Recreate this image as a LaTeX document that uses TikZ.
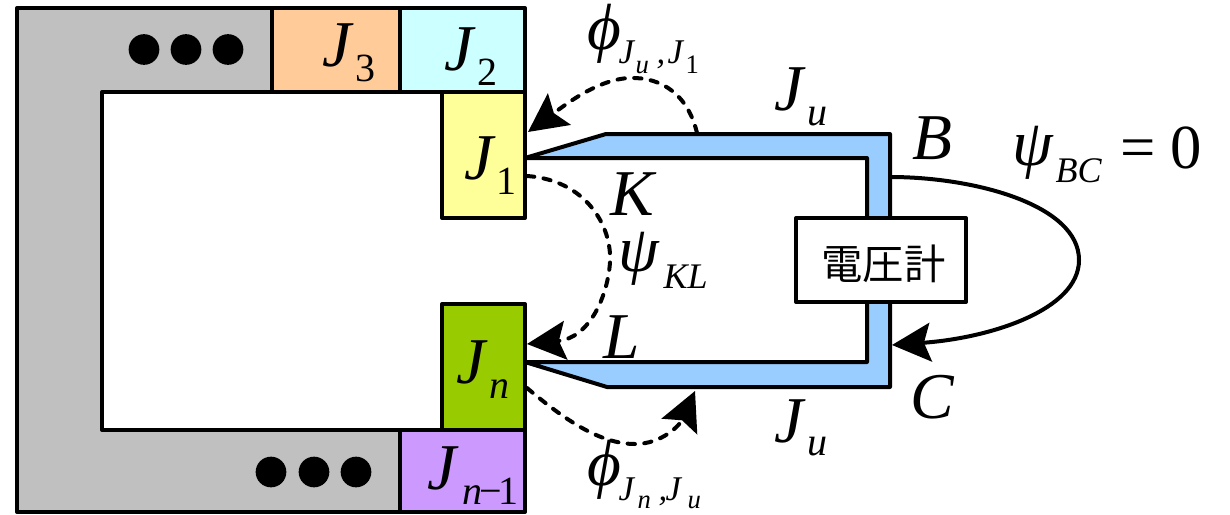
\documentclass[tikz,border=0pt]{standalone}
\usepackage{fontspec}
\setmainfont{Liberation Serif}
\newfontfamily\cjk{Noto Sans CJK JP}
\usetikzlibrary{arrows.meta}
\newcommand\fa{\fontsize{49}{49}\selectfont\itshape}
\newcommand\fb{\fontsize{30}{30}\selectfont}
\newcommand\fc{\fontsize{26}{26}\selectfont\itshape}
\newcommand\fd{\fontsize{20}{20}\selectfont}
% place text at an offset (in reference pixels) from the label's origin
\newcommand\pl[3]{\rlap{\kern\dimexpr#1pt*3/4\relax\raisebox{\dimexpr-#2pt*3/4\relax}{#3}}}
\tikzset{
  px/.style={x=0.75pt,y=-0.75pt},
  ln/.style={draw=black,line width=3pt,line join=round},
  boxn/.style={ln,anchor=north west,inner sep=0pt,outer sep=0pt},
  lab/.style={anchor=base west,inner sep=0pt,outer sep=0pt},
  dot/.style={circle,fill=black,inner sep=0pt,minimum size=23pt},
  tipa/.style={-{Stealth[length=29pt,width=29pt,inset=5pt]}},
  flux/.style={line width=3pt,line cap=round,dash pattern=on 5.5pt off 7pt,tipa},
  loopl/.style={line width=3pt,tipa},
}
\begin{document}
\begin{tikzpicture}[px]
\useasboundingbox (0,0) rectangle (1230,514);
\fill[white] (0,0) rectangle (1230,514);
% gray frame
\path[ln,fill={rgb,255:red,192;green,192;blue,192}] (17,8) -- (272,8) -- (272,92) -- (102,92) -- (102,430) -- (400,430) -- (400,512) -- (17,512) -- cycle;
% junction boxes
\node[boxn,fill={rgb,255:red,255;green,204;blue,153},minimum width=96pt,minimum height=63pt] (b3) at (272,8) {};
\node[boxn,fill={rgb,255:red,204;green,255;blue,255},minimum width=93.75pt,minimum height=63pt] (b2) at (400,8) {};
\node[boxn,fill={rgb,255:red,255;green,255;blue,153},minimum width=62.25pt,minimum height=94.5pt] (b1) at (442,92) {};
\node[boxn,fill={rgb,255:red,153;green,204;blue,0},minimum width=62.25pt,minimum height=94.5pt] (bn) at (442,304) {};
\node[boxn,fill={rgb,255:red,204;green,153;blue,255},minimum width=93.75pt,minimum height=61.5pt] (bm) at (400,430) {};
% blue junction
\path[ln,fill={rgb,255:red,153;green,204;blue,255}] (525,158) -- (606,134) -- (890,134) -- (890,387) -- (607,387) -- (525,362) -- (867,362) -- (867,158) -- cycle;
% meter
\node[boxn,fill=white,minimum width=127.5pt,minimum height=63pt] (meter) at (796,218) {};
\node[inner sep=0pt] (metert) at (883.5,264) {\fontsize{31}{31}\cjk 電圧計};
% dots
\foreach \n/\x in {a/144,b/186,c/228} \node[dot] (t\n) at (\x,49.5) {};
\foreach \n/\x in {a/271,b/314,c/356} \node[dot] (u\n) at (\x,472) {};
% anchors of connectors
\coordinate (fa) at (697,133);
\coordinate (fb) at (528,132);
\coordinate (ka) at (527,176);
\coordinate (kb) at (527,344);
\coordinate (na) at (527,388);
\coordinate (nb) at (695,391);
\coordinate (pb) at (890,177);
\coordinate (pc) at (892,345);
% connectors
\draw[flux] (fa) .. controls (688,95) and (662,77) .. (630,78) .. controls (598,79) and (565,105) .. (fb);
\draw[flux] (ka) .. controls (585,180) and (612,225) .. (610,262) .. controls (608,295) and (590,338) .. (kb);
\draw[flux] (na) .. controls (565,420) and (600,444) .. (635,444) .. controls (662,444) and (680,425) .. (nb);
\draw[loopl] (pb) .. controls (975,177) and (1079,205) .. (1079,260) .. controls (1079,310) and (990,338) .. (pc);
% labels
\node[lab] (l3) at (322,66) {\pl{0}{0}{\fa J}\pl{33}{15}{\fb 3}};
\node[lab] (l2) at (444,70) {\pl{0}{0}{\fa J}\pl{33}{15}{\fb 2}};
\node[lab] (l1) at (464,179) {\pl{0}{0}{\fa J}\pl{32}{15}{\fb 1}};
\node[lab] (ln) at (456,383) {\pl{0}{0}{\fa J}\pl{33}{15}{\fb\itshape n}};
\node[lab] (lm) at (427,489) {\pl{0}{0}{\fa J}\pl{35}{15}{\fb\itshape n\kern-2.5pt\textup{−}\kern-2.5pt\textup{1}}};
\node[lab] (jt) at (774,110) {\pl{0}{0}{\fa J}\pl{33}{15}{\fb\itshape u}};
\node[lab] (jb) at (774,442) {\pl{0}{0}{\fa J}\pl{33}{13}{\fb\itshape u}};
\node[lab] (B) at (912,159) {\fa B};
\node[lab] (C) at (910,418) {\fa C};
\node[lab] (K) at (610,215) {\fa K};
\node[lab] (L) at (603,358) {\fa L};
\node[lab] (psibc) at (1012,165) {\pl{0}{0}{\fa ψ}\pl{43}{17}{\fontsize{27}{27}\selectfont\itshape BC}\pl{108}{3}{\fontsize{47}{47}\selectfont =}\pl{158}{3}{\fontsize{47}{47}\selectfont 0}};
\node[lab] (psikl) at (618,271) {\pl{0}{0}{\fa ψ}\pl{45}{17}{\fontsize{27}{27}\selectfont\itshape KL}};
\node[lab] (phit) at (587,49) {\pl{0}{0}{\fa ϕ}\pl{31}{14}{\fc J}\pl{48}{24}{\fd\itshape u}\pl{69}{14}{\fc ,}\pl{80}{14}{\fc J}\pl{98}{24}{\fd 1}};
\node[lab] (phib) at (587,485) {\pl{0}{0}{\fa ϕ}\pl{31}{15}{\fc J}\pl{50}{23}{\fd\itshape n}\pl{71}{15}{\fc ,}\pl{78}{15}{\fc J}\pl{100}{23}{\fd\itshape u}};
\end{tikzpicture}
\end{document}
